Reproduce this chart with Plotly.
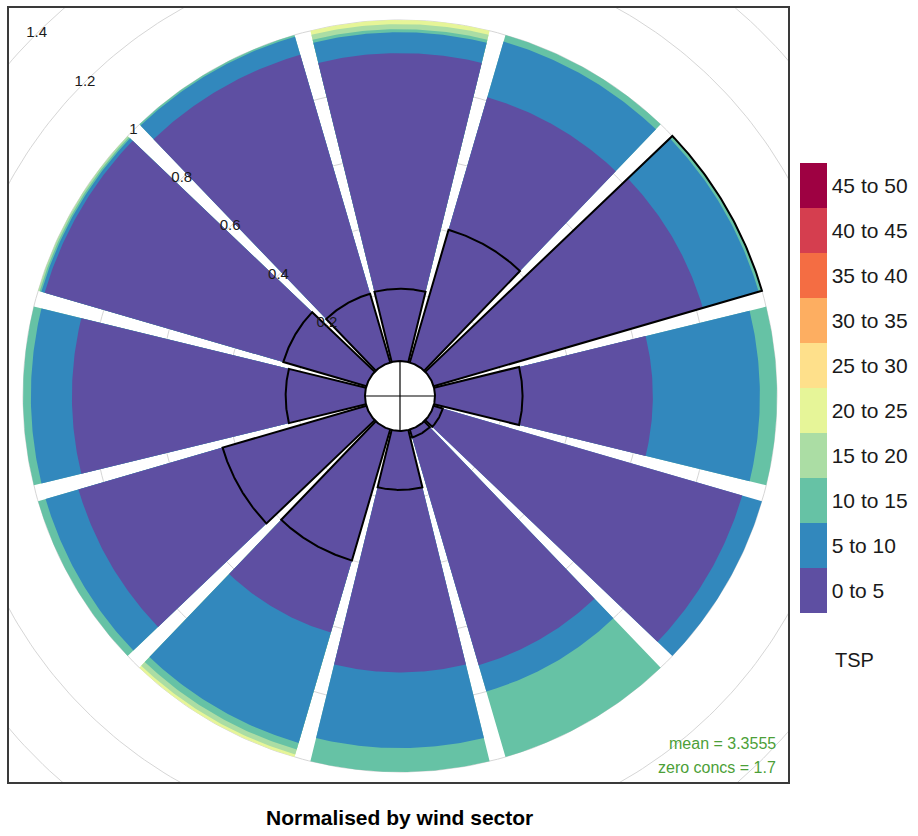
import numpy as np
import plotly.graph_objects as go

# ---- data -------------------------------------------------------------
directions = [0, 30, 60, 90, 120, 150, 180, 210, 240, 270, 300, 330]

band_labels = ["0 to 5", "5 to 10", "10 to 15", "15 to 20", "20 to 25",
               "25 to 30", "30 to 35", "35 to 40", "40 to 45", "45 to 50"]
band_colors = ["#5e4fa2", "#3288bd", "#66c2a5", "#abdda4", "#e6f598",
               "#fee08b", "#fdae61", "#f46d43", "#d53e4f", "#9e0142"]

# share of each TSP band within each wind sector (every sector sums to 1)
p_0_5 = [0.903, 0.810, 0.820, 0.637, 0.940, 0.720, 0.708, 0.620, 0.877, 0.857, 0.980, 0.940]
p_5_10 = [0.061, 0.170, 0.170, 0.313, 0.060, 0.080, 0.222, 0.337, 0.100, 0.120, 0.010, 0.055]
p_10_15 = [0.009, 0.020, 0.010, 0.050, 0.000, 0.200, 0.070, 0.020, 0.023, 0.023, 0.005, 0.005]
p_15_20 = [0.015, 0.000, 0.000, 0.000, 0.000, 0.000, 0.000, 0.015, 0.000, 0.000, 0.005, 0.000]
p_20_25 = [0.012, 0.000, 0.000, 0.000, 0.000, 0.000, 0.000, 0.008, 0.000, 0.000, 0.000, 0.000]
p_25_30 = [0.0] * 12
p_30_35 = [0.0] * 12
p_35_40 = [0.0] * 12
p_40_45 = [0.0] * 12
p_45_50 = [0.0] * 12

# overall frequency of each sector relative to the busiest one (black outline)
sector_freq = [0.212, 0.405, 1.000, 0.256, 0.028, 0.024, 0.173, 0.400, 0.438, 0.232, 0.253, 0.210]

radial_ticks = [0.2, 0.4, 0.6, 0.8, 1.0, 1.2, 1.4]
tick_text = ["0.2", "0.4", "0.6", "0.8", "1", "1.2", "1.4"]

mean_conc = 3.3555
zero_concs = 1.7

# ---- geometry ---------------------------------------------------------
PX = 342.0            # pixels per unit of normalised frequency
HOLE = 35.0 / PX      # radius of the calm hole
HALF = 13.75          # half angular width of a sector (deg)
W, H = 918, 836
ML, MR, MT, MB = 9, 130, 6, 54
CX, CY = 400.0, 395.0  # centre of the rose in page pixels

x_range = [-(CX - ML) / PX, (W - MR - CX) / PX]
y_range = [-(H - MB - CY) / PX, (CY - MT) / PX]


def polar_xy(r, theta_deg):
    t = np.radians(theta_deg)
    rr = HOLE + np.asarray(r)
    return rr * np.sin(t), rr * np.cos(t)


def wedge(theta_c, r_out, n=60):
    """Closed wedge from the hole edge out to r_out."""
    th = np.linspace(theta_c - HALF, theta_c + HALF, n)
    xo, yo = polar_xy(np.full(n, r_out), th)
    xi, yi = polar_xy(np.zeros(n), th[::-1])
    xs = np.concatenate([xo, xi, xo[:1]])
    ys = np.concatenate([yo, yi, yo[:1]])
    return xs, ys


def outline(theta_c, r_out, n=60):
    th = np.linspace(theta_c - HALF, theta_c + HALF, n)
    xo, yo = polar_xy(np.full(n, r_out), th)
    x0, y0 = polar_xy([0.0], [theta_c - HALF])
    x1, y1 = polar_xy([0.0], [theta_c + HALF])
    return (np.concatenate([x0, xo, x1]), np.concatenate([y0, yo, y1]))


fig = go.Figure()

# hidden trace that only carries the discrete colour key
n_b = len(band_labels)
cscale = []
for i, c in enumerate(band_colors):
    cscale.append([i / n_b, c])
    cscale.append([(i + 1) / n_b, c])
fig.add_trace(go.Heatmap(
    z=[[0, 50]], x=[50, 51], y=[50], zmin=0, zmax=50,
    colorscale=cscale, hoverinfo="skip",
    colorbar=dict(
        x=(800 - ML) / (W - ML - MR), xanchor="left", xpad=0,
        y=(H - MB - 387) / (H - MT - MB), yanchor="middle", ypad=0,
        lenmode="pixels", len=450, thickness=27, outlinewidth=0,
        tickvals=[2.5 + 5 * i for i in range(n_b)], ticktext=band_labels,
        ticks="", tickfont=dict(family="Liberation Sans", size=21, color="#1a1a1a"),
    ),
))

# radial grid circles
full = np.linspace(0, 360, 361)
gx, gy = [], []
for v in radial_ticks:
    x, y = polar_xy(np.full(full.size, v), full)
    gx += list(x) + [None]
    gy += list(y) + [None]
fig.add_trace(go.Scatter(x=gx, y=gy, mode="lines", hoverinfo="skip",
                         line=dict(color="#d6d6d6", width=1), showlegend=False))

# stacked sectors: draw cumulative wedges from the top band downwards
shares = np.array([p_0_5, p_5_10, p_10_15, p_15_20, p_20_25,
                   p_25_30, p_30_35, p_35_40, p_40_45, p_45_50])
cum = np.cumsum(shares, axis=0)
for b in range(n_b - 1, -1, -1):
    xs, ys = [], []
    for s, th in enumerate(directions):
        if shares[b, s] <= 0:
            continue
        x, y = wedge(th, cum[b, s])
        xs += list(x) + [None]
        ys += list(y) + [None]
    if not xs:
        continue
    fig.add_trace(go.Scatter(x=xs, y=ys, mode="lines", fill="toself",
                             fillcolor=band_colors[b], line=dict(width=0),
                             hoverinfo="skip", showlegend=False))

# frequency outline
ox, oy = [], []
for th, f in zip(directions, sector_freq):
    x, y = outline(th, f)
    ox += list(x) + [None]
    oy += list(y) + [None]
fig.add_trace(go.Scatter(x=ox, y=oy, mode="lines", hoverinfo="skip",
                         line=dict(color="black", width=2), showlegend=False))

# calm hole with cross hairs
hx, hy = polar_xy(np.zeros(full.size), full)
fig.add_trace(go.Scatter(x=hx, y=hy, mode="lines", fill="toself", fillcolor="white",
                         line=dict(color="black", width=2), hoverinfo="skip",
                         showlegend=False))
fig.add_trace(go.Scatter(x=[-HOLE, HOLE, None, 0, 0], y=[0, 0, None, -HOLE, HOLE],
                         mode="lines", line=dict(color="black", width=1.2),
                         hoverinfo="skip", showlegend=False))

# radial tick labels along the north-west diagonal
lx, ly = polar_xy(np.array(radial_ticks), np.full(len(radial_ticks), 315.0))
fig.add_trace(go.Scatter(x=lx, y=ly, mode="text", text=tick_text,
                         textfont=dict(family="Liberation Sans", size=15, color="#1a1a1a"),
                         hoverinfo="skip", showlegend=False, cliponaxis=False))

axis = dict(showgrid=False, zeroline=False, showticklabels=False, ticks="",
            showline=True, mirror=True, linecolor="#3a3a3a", linewidth=1.5,
            fixedrange=True)
fig.update_layout(
    width=W, height=H, margin=dict(l=ML, r=MR, t=MT, b=MB),
    paper_bgcolor="white", plot_bgcolor="white",
    xaxis=dict(range=x_range, **axis),
    yaxis=dict(range=y_range, **axis),
    showlegend=False,
)

pw, ph = W - ML - MR, H - MT - MB
fig.add_annotation(text="<b>Normalised by wind sector</b>", xref="paper", yref="paper",
                   x=(400 - ML) / pw, y=(H - MB - 818) / ph, xanchor="center",
                   yanchor="middle", showarrow=False,
                   font=dict(family="Liberation Sans", size=21, color="black"))
fig.add_annotation(text="TSP", xref="paper", yref="paper",
                   x=(833 - ML) / pw, y=(H - MB - 660) / ph, xanchor="left",
                   yanchor="middle", showarrow=False,
                   font=dict(family="Liberation Sans", size=20, color="#1a1a1a"))
fig.add_annotation(text=f"mean = {mean_conc}", xref="paper", yref="paper",
                   x=(778 - ML) / pw, y=(H - MB - 743) / ph, xanchor="right",
                   yanchor="middle", showarrow=False,
                   font=dict(family="Liberation Sans", size=16, color="#4c9f38"))
fig.add_annotation(text=f"zero concs = {zero_concs}", xref="paper", yref="paper",
                   x=(778 - ML) / pw, y=(H - MB - 767) / ph, xanchor="right",
                   yanchor="middle", showarrow=False,
                   font=dict(family="Liberation Sans", size=16, color="#4c9f38"))

fig.write_html("out.html")
